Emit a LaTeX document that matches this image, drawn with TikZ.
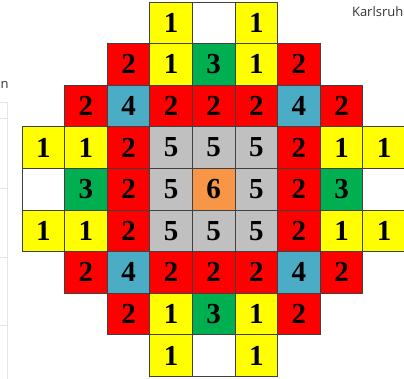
\documentclass[tikz,border=0pt]{standalone}
\usepackage{fontspec}
\setmainfont{Liberation Serif}
\newfontfamily\uifont{Open Sans}
\usepackage{tikz}
\usetikzlibrary{positioning}
\usepackage{xcolor}

\definecolor{cellyellow}{HTML}{FFFF00}
\definecolor{cellred}{HTML}{FF0000}
\definecolor{cellgreen}{HTML}{00B050}
\definecolor{cellblue}{HTML}{4BACC6}
\definecolor{cellgray}{HTML}{C0C0C0}
\definecolor{cellorange}{HTML}{F79646}

\tikzset{
  cell/.style={draw=black!75, line width=0.8pt, minimum width=42.6pt,
    minimum height=41.6pt, inner sep=0pt,
    font=\fontsize{29}{29}\selectfont\bfseries},
  v0/.style={fill=white},
  v1/.style={fill=cellyellow},
  v2/.style={fill=cellred},
  v3/.style={fill=cellgreen},
  v4/.style={fill=cellblue},
  v5/.style={fill=cellgray},
  v6/.style={fill=cellorange},
  paneltext/.style={inner sep=0pt, font=\uifont\fontsize{13}{13}\selectfont, text=black!80},
  panelline/.style={draw=black!10, line width=0.6pt}
}

\begin{document}
\begin{tikzpicture}[x=1pt, y=1pt]

\useasboundingbox (0,0) rectangle (404,379);
\clip (0,0) rectangle (404,379);

% Faint side panel of the screenshot
\draw[panelline] (7,0) -- (7,277);
\foreach \y in {277,261,191,122,54}{
  \draw[panelline] (0,\y) -- (7,\y);
}
\node[paneltext, anchor=base west] (cutn) at (0.5,290) {n};
\node[paneltext, anchor=base east] (city) at (403.5,362) {Karlsruh};

% Core map: row/{column/value}, value 0 = empty position
\foreach \r/\cells in {
  0/{3/1,4/0,5/1},
  1/{2/2,3/1,4/3,5/1,6/2},
  2/{1/2,2/4,3/2,4/2,5/2,6/4,7/2},
  3/{0/1,1/1,2/2,3/5,4/5,5/5,6/2,7/1,8/1},
  4/{0/0,1/3,2/2,3/5,4/6,5/5,6/2,7/3,8/0},
  5/{0/1,1/1,2/2,3/5,4/5,5/5,6/2,7/1,8/1},
  6/{1/2,2/4,3/2,4/2,5/2,6/4,7/2},
  7/{2/2,3/1,4/3,5/1,6/2},
  8/{3/1,4/0,5/1}}{
  \foreach \c/\v in \cells{
    \node[cell, v\v] (c\r-\c) at ({43.3+42.6*\c},{356.2-41.6*\r})
      {\ifnum\v>0 \v\fi};
  }
}

\end{tikzpicture}
\end{document}
